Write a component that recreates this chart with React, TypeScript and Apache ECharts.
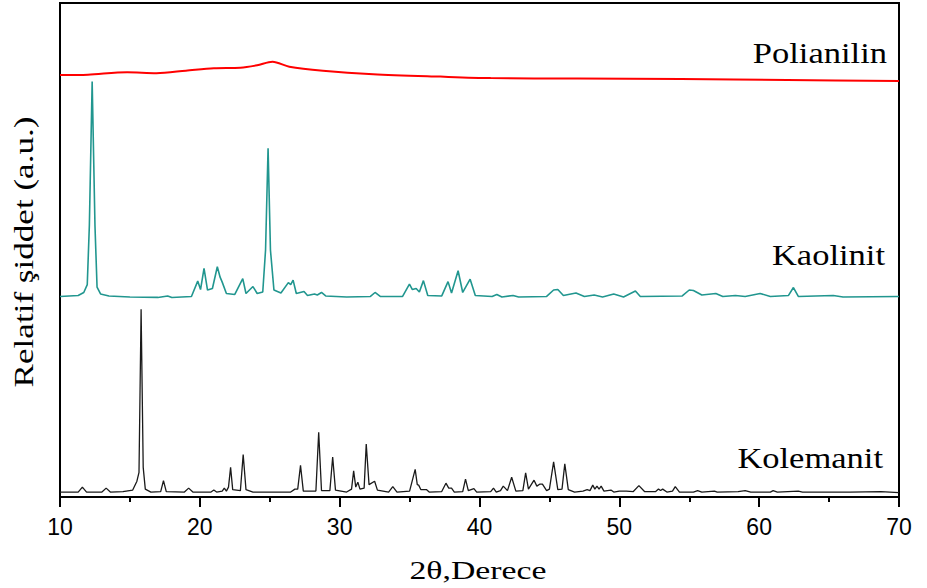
import React, { useEffect, useRef } from "react";
import * as echarts from "echarts";

// 2θ (degree) – relative intensity (a.u., stacked scale 0–100)
const KOLEMANIT: [number, number][] = [
  [10, 1.0], [11.3, 1.0], [11.6, 2.0], [11.9, 1.0], [13.0, 1.0], [13.3, 1.8], [13.6, 1.0],
  [14.5, 1.1], [15.2, 1.4], [15.5, 3.2], [15.65, 5.0], [15.8, 38.0], [15.95, 6.0], [16.1, 1.6],
  [16.5, 1.0], [17.2, 1.1], [17.4, 3.3], [17.6, 1.1], [18.9, 1.0], [19.2, 1.8], [19.5, 1.0],
  [20.8, 1.0], [21.0, 1.4], [21.2, 1.0], [21.6, 1.2], [21.75, 1.8], [21.9, 1.2], [22.05, 2.0],
  [22.2, 6.0], [22.35, 1.5], [22.9, 1.3], [23.1, 8.6], [23.3, 1.5], [23.8, 1.0], [26.5, 1.0],
  [26.8, 1.6], [27.0, 1.6], [27.2, 6.4], [27.4, 1.2], [28.3, 1.2], [28.5, 13.1], [28.7, 1.3],
  [29.3, 1.3], [29.5, 8.1], [29.7, 1.4], [30.5, 1.0], [30.85, 1.6], [31.0, 5.3], [31.15, 2.0],
  [31.3, 3.0], [31.45, 1.6], [31.75, 1.8], [31.9, 10.7], [32.1, 2.5], [32.5, 3.2], [32.7, 1.4],
  [33.5, 1.0], [33.8, 2.1], [34.1, 1.0], [35.0, 1.2], [35.4, 5.6], [35.55, 2.5], [35.65, 2.4],
  [35.8, 1.5], [36.2, 1.5], [36.4, 1.0], [37.3, 1.1], [37.6, 2.8], [37.8, 1.8], [38.0, 1.8],
  [38.2, 1.0], [38.8, 1.1], [39.0, 3.6], [39.2, 1.3], [39.6, 1.7], [39.8, 1.0], [40.8, 1.1],
  [41.0, 1.8], [41.2, 1.0], [41.5, 1.3], [41.7, 2.2], [42.0, 1.3], [42.3, 4.0], [42.6, 1.2],
  [43.1, 1.3], [43.3, 4.9], [43.5, 1.6], [43.9, 3.4], [44.1, 2.2], [44.3, 2.6], [44.5, 2.6],
  [44.8, 1.3], [45.0, 1.6], [45.3, 7.1], [45.6, 1.5], [45.9, 1.6], [46.1, 6.7], [46.35, 1.5],
  [46.8, 1.0], [47.4, 1.2], [47.7, 1.5], [47.9, 1.3], [48.1, 2.4], [48.25, 1.6], [48.4, 2.2],
  [48.55, 1.6], [48.7, 2.2], [48.9, 1.2], [49.4, 1.4], [49.6, 1.0], [50.0, 1.2], [50.5, 1.2],
  [51.0, 1.1], [51.4, 2.3], [51.8, 1.1], [52.6, 1.1], [52.8, 1.6], [52.95, 1.3], [53.1, 1.6],
  [53.4, 1.0], [53.8, 1.2], [54.0, 2.1], [54.3, 1.0], [55.3, 1.0], [55.6, 1.3], [55.9, 1.0],
  [56.8, 1.2], [57.0, 1.0], [58.5, 1.1], [59.0, 1.3], [59.4, 1.0], [60.8, 1.0], [61.0, 1.3],
  [61.3, 1.0], [62.8, 1.2], [63.1, 1.0], [65.0, 1.0], [66.5, 1.0], [68.7, 1.1], [70, 0.9],
];

const KAOLINIT: [number, number][] = [
  [10, 40.6], [11.3, 40.8], [11.7, 41.4], [11.95, 43.0], [12.1, 55.0], [12.3, 84.1], [12.5, 55.0],
  [12.65, 42.5], [12.9, 41.1], [13.5, 40.7], [15, 40.5], [17, 40.4], [17.7, 40.7], [18.0, 40.4],
  [19.4, 40.6], [19.85, 43.7], [20.05, 42.0], [20.3, 46.3], [20.55, 41.9], [20.9, 42.2],
  [21.25, 46.6], [21.45, 44.5], [21.6, 43.5], [21.9, 41.2], [22.5, 41.0], [23.07, 44.2],
  [23.3, 41.2], [23.8, 42.6], [24.1, 41.2], [24.5, 41.5], [24.7, 50.0], [24.88, 70.6],
  [25.05, 50.0], [25.3, 41.9], [25.8, 41.3], [26.33, 43.4], [26.5, 43.0], [26.67, 43.9],
  [26.9, 41.2], [27.45, 41.6], [27.7, 40.8], [28.2, 41.1], [28.4, 40.9], [28.7, 41.4],
  [29.0, 40.7], [30.5, 40.5], [32.2, 40.6], [32.53, 41.4], [32.9, 40.6], [34.5, 40.6],
  [34.99, 43.1], [35.2, 42.0], [35.47, 42.2], [35.7, 41.5], [35.99, 43.8], [36.3, 40.8],
  [37.3, 40.7], [37.75, 43.6], [38.0, 41.3], [38.47, 45.8], [38.8, 41.4], [39.33, 44.1],
  [39.7, 40.8], [40.3, 40.7], [40.9, 40.6], [41.24, 41.0], [41.6, 40.5], [42.4, 40.8],
  [42.8, 40.5], [44.8, 40.6], [45.3, 41.9], [45.6, 42.0], [46.0, 40.8], [46.9, 41.3],
  [47.5, 40.6], [48.2, 40.9], [48.8, 40.5], [49.6, 41.1], [50.3, 40.5], [51.15, 41.7],
  [51.5, 40.6], [54.5, 40.7], [55.0, 41.9], [55.3, 41.8], [55.9, 40.9], [56.9, 41.2],
  [57.4, 40.6], [58.3, 40.8], [59.0, 40.6], [60.07, 41.2], [60.8, 40.6], [62.1, 40.8],
  [62.45, 42.4], [62.8, 40.6], [65.3, 40.8], [66, 40.5], [70, 40.6],
];

const POLIANILIN: [number, number][] = [
  [10, 85.4], [12, 85.5], [14.8, 86.0], [16.9, 85.8], [19, 86.3], [21.0, 86.8], [22.9, 86.9],
  [24.1, 87.4], [25.2, 88.1], [26.4, 87.1], [28.8, 86.3], [32.4, 85.6], [37.2, 85.1],
  [40.8, 84.8], [47, 84.7], [54.4, 84.6], [62, 84.4], [70, 84.2],
];

const SERIES_NAMES = ["Kolemanit", "Kaolinit", "Polianilin"];
const X_MIN = 10;
const X_MAX = 70;
const X_STEP = 10;
const X_TITLE = "2θ,Derece";
const Y_TITLE = "Relatif şiddet (a.u.)";

export default function App() {
  const ref = useRef<HTMLDivElement>(null);
  useEffect(() => {
    document.body.style.margin = "0";
    if (!ref.current) return;
    const chart = echarts.init(ref.current, undefined, { renderer: "svg" });
    const serif = "'Liberation Serif', 'Times New Roman', serif";
    const labelText = (text: string, x: number, y: number) => ({
      type: "text",
      x,
      y,
      scaleX: 1.19,
      style: {
        text,
        fontFamily: serif,
        fontSize: 29,
        fill: "#000",
        textAlign: "right",
        textVerticalAlign: "middle",
      },
    });
    chart.setOption({
      animation: false,
      backgroundColor: "#fff",
      grid: {
        left: 60,
        right: 28,
        top: 3,
        bottom: 91,
        show: true,
        borderColor: "#000",
        borderWidth: 2,
        containLabel: false,
      },
      xAxis: {
        type: "value",
        min: X_MIN,
        max: X_MAX,
        interval: X_STEP,
        axisLine: { show: true, onZero: false, lineStyle: { color: "#000", width: 2 } },
        axisTick: { show: true, inside: false, length: 10, lineStyle: { color: "#000", width: 2 } },
        minorTick: { show: true, splitNumber: 2, length: 5, lineStyle: { color: "#000", width: 2 } },
        axisLabel: {
          fontSize: 23,
          fontFamily: "'Liberation Sans', Arial, sans-serif",
          color: "#000",
          margin: 18,
        },
        splitLine: { show: false },
      },
      yAxis: {
        type: "value",
        min: 0,
        max: 100,
        axisLine: { show: true, lineStyle: { color: "#000", width: 2 } },
        axisTick: { show: false },
        axisLabel: { show: false },
        splitLine: { show: false },
      },
      series: [
        {
          name: SERIES_NAMES[0],
          type: "line",
          data: KOLEMANIT,
          showSymbol: false,
          lineStyle: { color: "#1a1a1a", width: 1.3 },
        },
        {
          name: SERIES_NAMES[1],
          type: "line",
          data: KAOLINIT,
          showSymbol: false,
          lineStyle: { color: "#21968f", width: 1.6 },
        },
        {
          name: SERIES_NAMES[2],
          type: "line",
          data: POLIANILIN,
          showSymbol: false,
          smooth: 0.3,
          lineStyle: { color: "#ff0000", width: 2 },
        },
      ],
      graphic: [
        labelText(SERIES_NAMES[2], 887, 53),
        labelText(SERIES_NAMES[1], 885, 255),
        labelText(SERIES_NAMES[0], 883, 458),
        {
          type: "text",
          x: 478,
          y: 570,
          scaleX: 1.3,
          style: {
            text: X_TITLE,
            fontFamily: serif,
            fontSize: 26,
            fill: "#000",
            textAlign: "center",
            textVerticalAlign: "middle",
          },
        },
        {
          type: "text",
          x: 24,
          y: 252,
          rotation: Math.PI / 2,
          scaleX: 1.3,
          style: {
            text: Y_TITLE,
            fontFamily: serif,
            fontSize: 27,
            fill: "#000",
            textAlign: "center",
            textVerticalAlign: "middle",
          },
        },
      ],
    });
    return () => chart.dispose();
  }, []);
  return <div ref={ref} style={{ width: 927, height: 588 }} />;
}
